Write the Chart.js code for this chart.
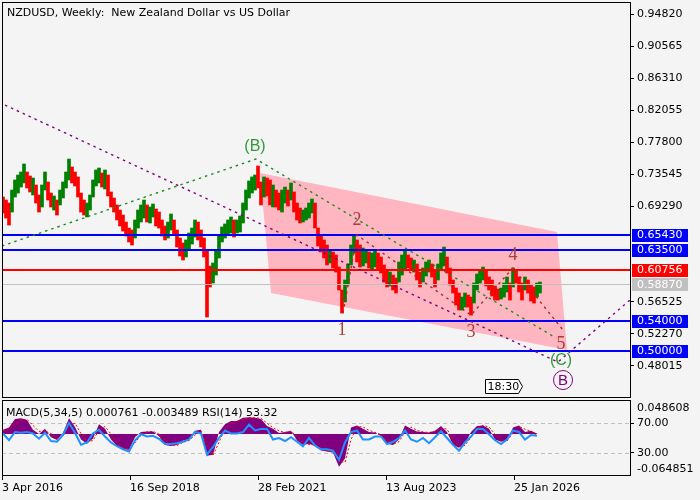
<!DOCTYPE html>
<html><head><meta charset="utf-8">
<script src="https://cdn.jsdelivr.net/npm/chart.js@4.4.0/dist/chart.umd.min.js"></script>
<style>
html,body{margin:0;padding:0;background:#F4F4F4;width:700px;height:500px;overflow:hidden}
canvas{position:absolute;left:0}
#c1{top:0}
#c2{top:399px}
</style></head><body>
<canvas id="c1" width="700" height="400"></canvas>
<canvas id="c2" width="700" height="101"></canvas>
<script>
// ---------- data ----------
const chartTitle = 'NZDUSD, Weekly:  New Zealand Dollar vs US Dollar';
const indicatorTitle = 'MACD(5,34,5) 0.000761 -0.003489 RSI(14) 53.32';
const priceTicks = [0.94820, 0.90565, 0.86310, 0.82055, 0.77800, 0.73545, 0.69290, 0.56525, 0.52270, 0.48015];
const tickWeeks = [0, 128, 256, 384, 512];             // weeks since 3 Apr 2016
const tickLabels = ['3 Apr 2016', '16 Sep 2018', '28 Feb 2021', '13 Aug 2023', '25 Jan 2026'];
const barWeekStep = 3;                                  // one bar per three weeks
const barHigh = [
  0.7049,0.7009,0.6969,0.7142,0.7276,0.7342,0.7382,0.7489,0.7382,0.7329,
  0.7302,0.7209,0.7076,0.7209,0.7382,0.7249,0.7102,0.7063,0.7009,0.7142,
  0.7249,0.7382,0.7555,0.7449,0.7382,0.7316,0.7102,0.7009,0.6969,0.7076,
  0.7276,0.7409,0.7435,0.7369,0.7409,0.7342,0.7116,0.7036,0.6943,0.6876,
  0.6809,0.6716,0.6636,0.6610,0.6743,0.6876,
  0.6943,0.7009,0.6943,0.6916,0.6956,0.6889,0.6849,0.6743,0.6663,0.6716,
  0.6823,0.6743,0.6610,0.6503,0.6437,0.6477,0.6570,0.6636,0.6743,0.6716,
  0.6610,0.6503,0.6343,0.6130,0.6170,0.6343,0.6543,0.6650,0.6690,0.6743,
  0.6783,0.6743,0.6743,0.6796,0.6969,0.7142,0.7262,0.7316,0.7342,0.7462,
  0.7249,0.7316,0.7302,0.7276,
  0.7209,0.7142,0.7102,0.7142,0.7182,0.7142,0.7236,0.7116,0.6969,0.6903,
  0.6876,0.6903,0.6969,0.7023,0.6969,0.6636,0.6530,0.6477,0.6410,0.6343,
  0.6317,0.6277,0.6117,0.5811,0.5944,0.6157,0.6410,0.6543,0.6477,0.6410,
  0.6370,0.6343,0.6317,0.6303,0.6343,0.6303,0.6250,0.6144,0.6077,0.6050,
  0.6010,0.5970,0.6184,0.6277,0.6343,
  0.6277,0.6237,0.6210,0.6157,0.6050,0.6104,0.6184,0.6210,0.6157,0.6077,
  0.6157,0.6303,0.6383,0.6250,0.6104,0.5944,0.5837,0.5771,0.5717,0.5771,
  0.5744,0.5717,0.5904,0.6024,0.6077,0.6117,0.6077,0.5984,0.5944,0.5864,
  0.5824,0.5837,0.5904,0.5984,0.5904,0.6104,0.6077,0.5984,0.5904,0.5984,
  0.5944,0.5877,0.5851,0.5904,0.5917
];
const barLow = [
  0.6836,0.6769,0.6676,0.6849,0.7049,0.7102,0.7182,0.7236,0.7169,0.7116,
  0.7076,0.6969,0.6849,0.6916,0.7142,0.7009,0.6916,0.6876,0.6809,0.6943,
  0.7036,0.7169,0.7276,0.7236,0.7196,0.7049,0.6849,0.6809,0.6783,0.6876,
  0.7049,0.7196,0.7236,0.7182,0.7156,0.7063,0.6916,0.6849,0.6743,0.6663,
  0.6596,0.6530,0.6450,0.6410,0.6503,0.6636,
  0.6716,0.6769,0.6716,0.6703,0.6783,0.6663,0.6636,0.6530,0.6477,0.6503,
  0.6610,0.6543,0.6383,0.6263,0.6210,0.6250,0.6343,0.6423,0.6516,0.6477,
  0.6383,0.6250,0.5451,0.5851,0.5904,0.6010,0.6237,0.6450,0.6503,0.6543,
  0.6570,0.6516,0.6570,0.6583,0.6703,0.6876,0.7036,0.7102,0.7142,0.7169,
  0.6943,0.7049,0.7063,0.6943,
  0.6916,0.6916,0.6876,0.6849,0.6969,0.6929,0.7009,0.6849,0.6743,0.6703,
  0.6716,0.6743,0.6769,0.6836,0.6636,0.6397,0.6317,0.6237,0.6144,0.6170,
  0.6104,0.6050,0.5811,0.5504,0.5651,0.5877,0.6144,0.6303,0.6184,0.6117,
  0.6130,0.6170,0.6104,0.6077,0.6117,0.6077,0.6037,0.5917,0.5851,0.5864,
  0.5811,0.5771,0.5917,0.6010,0.6077,
  0.6104,0.6077,0.6050,0.5944,0.5851,0.5917,0.5997,0.6050,0.5984,0.5851,
  0.5944,0.6077,0.6130,0.6037,0.5877,0.5771,0.5611,0.5544,0.5544,0.5584,
  0.5584,0.5477,0.5637,0.5811,0.5904,0.5944,0.5864,0.5811,0.5731,0.5677,
  0.5677,0.5691,0.5717,0.5784,0.5677,0.5851,0.5904,0.5784,0.5677,0.5811,
  0.5771,0.5664,0.5637,0.5717,0.5771
];
const barDir = [
  'ddduuuuudd','udduuddudu','uuuddddduu','uuududdddd','dddduu',
  'uuduuddddu','udddduuuud','dddduuuuuu','uduuuuuuud','dudd',
  'udduududdd','uuuudddddu','dddduuuudd','uuduuddddu','dduuu',
  'ddudduuudd','uuuddddduu','dduuuudddd','duuududddu','ddduu'
].join('');
const levelPrices = [0.65430, 0.63500, 0.60756, 0.58870, 0.54000, 0.50000];
const levelColors = ['#0000FF', '#0000FF', '#FF0000', '#C0C0C0', '#0000FF', '#0000FF'];
const channelWeeks = [258, 555, 565, 269];
const channelPrices = [0.7369, 0.6583, 0.5012, 0.5771];
const purpleWeeks = [3, 556, 628];
const purplePrices = [0.8274, 0.4852, 0.5678];
const greenWeeks = [0, 254, 554];
const greenPrices = [0.6397, 0.7555, 0.5172];
const waveWeeks = [341, 355, 469, 511, 561];
const wavePrices = [0.5504, 0.6543, 0.5477, 0.6104, 0.5278];
const labelTexts = ['(B)', '1', '2', '3', '4', '5', '(C)', 'B'];
const labelWeeks = [253, 340, 355, 469, 511, 559, 559, 561];
const labelPrices = [0.7728, 0.5291, 0.6756, 0.5265, 0.6290, 0.5105, 0.4879, 0.4612];
const indWeekStep = 6;                                  // indicator sample every six weeks
const rsiValues = [
  56,47,58,57,58,56,49,57,46,45,
  54,70,57,41,44,56,61,52,44,39,
  35,32,47,55,52,53,49,42,42,43,
  45,48,58,56,28,38,50,60,56,56,
  58,68,60,62,62,48,50,46,51,45,
  39,50,40,35,35,33,21,44,58,60,
  48,48,52,52,42,45,50,60,48,45,
  50,43,51,59,50,41,33,44,52,62,
  62,55,47,42,48,60,58,48,54,53
];
const macdValues = [
  0.008,0.012,0.028,0.029,0.026,0.008,0.000,0.010,-0.006,-0.011,
  0.002,0.029,0.013,-0.010,-0.018,-0.008,0.018,0.010,-0.010,-0.022,
  -0.028,-0.029,-0.006,0.004,0.005,0.005,-0.004,-0.020,-0.022,-0.020,
  -0.012,-0.012,0.006,0.008,-0.040,-0.038,0.004,0.018,0.024,0.024,
  0.030,0.031,0.030,0.028,0.015,0.010,0.002,0.004,0.006,-0.012,
  -0.020,-0.018,-0.022,-0.030,-0.032,-0.034,-0.060,-0.045,0.012,0.016,
  0.010,0.004,0.003,-0.004,-0.018,-0.020,-0.010,0.016,0.010,0.005,
  0.004,0.003,0.006,0.015,0.004,-0.020,-0.025,-0.018,0.004,0.015,
  0.016,0.010,-0.010,-0.014,-0.012,0.012,0.016,0.004,0.006,0.001
];
const signalValues = [
  0.006,0.009,0.018,0.026,0.027,0.016,0.005,0.006,0.001,-0.008,
  -0.004,0.017,0.020,0.001,-0.014,-0.012,0.008,0.014,0.000,-0.016,
  -0.025,-0.028,-0.016,-0.002,0.004,0.005,0.000,-0.012,-0.020,-0.021,
  -0.015,-0.012,-0.002,0.006,-0.020,-0.039,-0.015,0.010,0.020,0.024,
  0.027,0.030,0.030,0.029,0.020,0.012,0.006,0.003,0.005,-0.004,
  -0.016,-0.019,-0.020,-0.026,-0.031,-0.033,-0.050,-0.052,-0.010,0.014,
  0.013,0.007,0.003,-0.001,-0.012,-0.019,-0.014,0.004,0.013,0.007,
  0.004,0.003,0.005,0.011,0.009,-0.010,-0.023,-0.021,-0.006,0.010,
  0.016,0.013,0.000,-0.012,-0.013,0.002,0.014,0.009,0.005,-0.003
];
const rsiLevels = [70, 30];
const macdLabels = [0.048608, -0.064851];

// ---------- drawing ----------
const FONT = '11px "DejaVu Sans", sans-serif';
Chart.defaults.font.family = '"DejaVu Sans", sans-serif';
Chart.defaults.font.size = 11;
Chart.defaults.color = '#000';

function path(ctx, ws, ps, sx, sy) {
  ctx.beginPath();
  ws.forEach((w, i) => {
    const X = sx.getPixelForValue(w), Y = sy.getPixelForValue(ps[i]);
    if (i) ctx.lineTo(X, Y); else ctx.moveTo(X, Y);
  });
}
function clipArea(ctx, a) {
  ctx.beginPath(); ctx.rect(a.left, a.top, a.right - a.left, a.bottom - a.top); ctx.clip();
}
function frame(ctx, a) {
  ctx.save(); ctx.strokeStyle = '#000'; ctx.lineWidth = 1; ctx.setLineDash([]);
  ctx.strokeRect(Math.round(a.left) + 0.5, Math.round(a.top) + 0.5,
                 Math.round(a.right - a.left), Math.round(a.bottom - a.top) - 1);
  ctx.restore();
}
function noEdgePad(s) { s.paddingTop = 0; s.paddingBottom = 0; s.paddingLeft = 0; s.paddingRight = 0; }

const mainPlugin = {
  id: 'mainDecor',
  beforeDatasetsDraw(chart) {
    const { ctx, chartArea: a, scales: { x, y } } = chart;
    ctx.save(); clipArea(ctx, a);
    path(ctx, channelWeeks, channelPrices, x, y); ctx.closePath();
    ctx.fillStyle = '#FFB6C1'; ctx.fill();
    ctx.restore();
  },
  afterDatasetsDraw(chart) {
    const { ctx, chartArea: a, scales: { x, y } } = chart;
    ctx.save(); clipArea(ctx, a);
    levelPrices.forEach((p, i) => {
      const grey = levelColors[i] === '#C0C0C0';
      const Y = Math.round(y.getPixelForValue(p)) + (grey ? 0.5 : 0);
      ctx.strokeStyle = levelColors[i]; ctx.lineWidth = grey ? 1 : 2;
      ctx.beginPath(); ctx.moveTo(a.left, Y); ctx.lineTo(a.right, Y); ctx.stroke();
    });
    ctx.lineWidth = 1.4; ctx.setLineDash([2.5, 4]);
    ctx.strokeStyle = '#800080'; path(ctx, purpleWeeks, purplePrices, x, y); ctx.stroke();
    ctx.strokeStyle = '#1C8C1C'; path(ctx, greenWeeks, greenPrices, x, y); ctx.stroke();
    ctx.strokeStyle = '#A52A2A'; path(ctx, waveWeeks, wavePrices, x, y); ctx.stroke();
    ctx.setLineDash([]);
    ctx.textAlign = 'center'; ctx.textBaseline = 'middle';
    labelTexts.forEach((t, i) => {
      const X = x.getPixelForValue(labelWeeks[i]), Y = y.getPixelForValue(labelPrices[i]);
      if (t === '(B)' || t === '(C)') { ctx.font = '16px "Liberation Sans", sans-serif'; ctx.fillStyle = '#2E9A3A'; }
      else if (t === 'B') {
        ctx.font = '15px "Liberation Sans", sans-serif'; ctx.fillStyle = '#800080';
        ctx.strokeStyle = '#800080'; ctx.lineWidth = 1;
        ctx.beginPath(); ctx.arc(X, Y, 9.5, 0, Math.PI * 2); ctx.stroke();
      } else { ctx.font = '18px "Liberation Serif", serif'; ctx.fillStyle = '#A8403A'; }
      ctx.fillText(t, X, Y + 1);
    });
    const bx = Math.round(x.getPixelForValue(483)) + 0.5, bb = Math.round(a.bottom) - 4.5, bt = bb - 14;
    ctx.beginPath();
    ctx.moveTo(bx, bt); ctx.lineTo(bx + 33, bt); ctx.lineTo(bx + 37, (bt + bb) / 2);
    ctx.lineTo(bx + 33, bb); ctx.lineTo(bx, bb); ctx.closePath();
    ctx.fillStyle = '#FFFFFF'; ctx.fill(); ctx.strokeStyle = '#000'; ctx.stroke();
    ctx.fillStyle = '#000'; ctx.font = FONT; ctx.textAlign = 'left'; ctx.textBaseline = 'middle';
    ctx.fillText('18:30', bx + 2, (bt + bb) / 2 + 0.5);
    ctx.restore();
  },
  afterDraw(chart) {
    const { ctx, chartArea: a, scales: { y } } = chart;
    frame(ctx, a);
    ctx.save();
    ctx.font = FONT; ctx.fillStyle = '#000'; ctx.textAlign = 'left'; ctx.textBaseline = 'alphabetic';
    ctx.fillText(chartTitle, 7, 16);
    ctx.textBaseline = 'middle';
    levelPrices.forEach((p, i) => {
      const Y = y.getPixelForValue(p);
      ctx.fillStyle = levelColors[i];
      ctx.fillRect(a.right + 2, Math.round(Y) - 6, 56, 13);
      ctx.fillStyle = '#FFFFFF';
      ctx.fillText(p.toFixed(5), a.right + 7, Y + 0.5);
    });
    ctx.restore();
  }
};

const lowerPlugin = {
  id: 'lowerDecor',
  beforeDatasetsDraw(chart) {
    const { ctx, chartArea: a, scales } = chart;
    ctx.save(); ctx.strokeStyle = '#C0C0C0'; ctx.lineWidth = 1; ctx.setLineDash([4, 3]);
    rsiLevels.forEach(v => {
      const Y = Math.round(scales.rsi.getPixelForValue(v)) + 0.5;
      ctx.beginPath(); ctx.moveTo(a.left, Y); ctx.lineTo(a.right, Y); ctx.stroke();
    });
    ctx.restore();
  },
  afterDraw(chart) {
    const { ctx, chartArea: a, scales } = chart;
    frame(ctx, a);
    ctx.save();
    ctx.font = FONT; ctx.fillStyle = '#000'; ctx.textAlign = 'left';
    ctx.textBaseline = 'alphabetic';
    ctx.fillText(indicatorTitle, 6, 17);
    ctx.textBaseline = 'middle';
    macdLabels.forEach(v => {
      ctx.fillText(v.toFixed(6), a.right + 7, scales.macd.getPixelForValue(v));
    });
    ctx.restore();
  }
};

const barData = barHigh.map((h, i) => ({ x: 1 + barWeekStep * i, y: [barLow[i], h] }));
const barColors = barDir.split('').map(d => d === 'u' ? '#008000' : '#FF0000');

new Chart(document.getElementById('c1'), {
  type: 'bar',
  data: { datasets: [{ data: barData, backgroundColor: barColors, borderWidth: 0, barThickness: 3, grouped: false }] },
  options: {
    responsive: false, animation: false, devicePixelRatio: 1,
    layout: { padding: { left: 2, top: 2, right: 0, bottom: 2 } },
    plugins: { legend: { display: false }, tooltip: { enabled: false } },
    scales: {
      x: { type: 'linear', min: 0, max: 628, offset: false, display: false, grid: { offset: false } },
      y: {
        type: 'linear', position: 'right', min: 0.43728, max: 0.96458, beginAtZero: false,
        afterFit: s => { s.width = 70; noEdgePad(s); },
        afterBuildTicks: s => { s.ticks = priceTicks.map(v => ({ value: v })); },
        ticks: { autoSkip: false, padding: 3, color: '#000', font: { size: 11 }, callback: v => Number(v).toFixed(5) },
        grid: { drawOnChartArea: false, drawTicks: true, tickLength: 4, color: '#000' },
        border: { display: false }
      }
    }
  },
  plugins: [mainPlugin]
});

const pts = (vals) => vals.map((v, i) => ({ x: 1 + indWeekStep * i, y: v }));

new Chart(document.getElementById('c2'), {
  type: 'line',
  data: { datasets: [
    { data: pts(macdValues), yAxisID: 'macd', fill: 'origin', backgroundColor: '#800080', borderWidth: 0, pointRadius: 0, order: 3 },
    { data: pts(signalValues), yAxisID: 'macd', fill: false, borderColor: '#FF0000', borderWidth: 1, borderDash: [2, 2], pointRadius: 0, order: 2 },
    { data: pts(rsiValues), yAxisID: 'rsi', fill: false, borderColor: '#1E90FF', borderWidth: 2, pointRadius: 0, order: 1 }
  ] },
  options: {
    responsive: false, animation: false, devicePixelRatio: 1,
    layout: { padding: { left: 2, top: 1, right: 0, bottom: 0 } },
    plugins: { legend: { display: false }, tooltip: { enabled: false } },
    scales: {
      x: {
        type: 'linear', min: 0, max: 628, offset: false,
        afterFit: s => { s.height = 24; noEdgePad(s); },
        afterBuildTicks: s => { s.ticks = tickWeeks.map(v => ({ value: v })); },
        ticks: { autoSkip: false, maxRotation: 0, minRotation: 0, align: 'start', padding: 2, color: '#000', font: { size: 11 },
                 callback: (v, i) => tickLabels[i] },
        grid: { drawOnChartArea: false, tickLength: 4, color: '#000' },
        border: { display: false }
      },
      rsi: {
        axis: 'y', type: 'linear', position: 'right', min: -0.67, max: 100.67,
        afterFit: s => { s.width = 70; noEdgePad(s); },
        afterBuildTicks: s => { s.ticks = rsiLevels.map(v => ({ value: v })); },
        ticks: { autoSkip: false, padding: 3, color: '#000', font: { size: 11 }, callback: v => Number(v).toFixed(2) },
        grid: { drawOnChartArea: false, tickLength: 4, color: '#000' },
        border: { display: false }
      },
      macd: { axis: 'y', type: 'linear', display: false, min: -0.07719, max: 0.06279 }
    }
  },
  plugins: [lowerPlugin]
});
</script>
</body></html>
